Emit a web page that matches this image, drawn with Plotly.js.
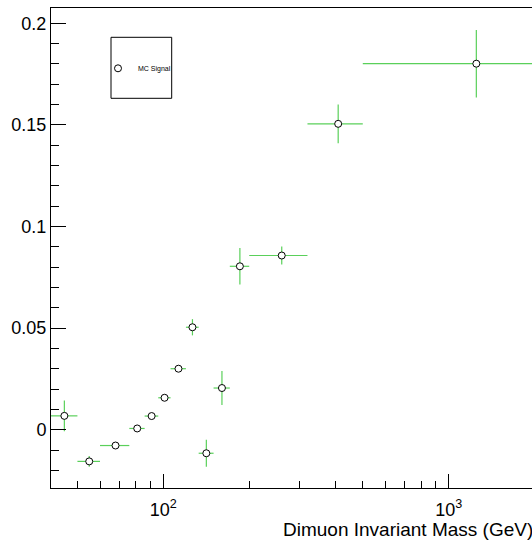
<!DOCTYPE html>
<html>
<head>
<meta charset="utf-8">
<script src="https://cdn.plot.ly/plotly-3.0.1.min.js"></script>
<style>html,body{margin:0;padding:0;background:#fff;}#chart{width:532px;height:544px;}</style>
</head>
<body>
<div id="chart"></div>
<script>
// Bin edges (GeV) and points
const binLow  = [40, 50, 60, 76, 86, 96, 106, 120, 133, 150, 171, 200, 320, 500];
const binHigh = [50, 60, 76, 86, 96, 106, 120, 133, 150, 171, 200, 320, 500, 2000];
const massCenter = [45, 55, 68, 81, 91, 101, 113, 126.5, 141.5, 160.5, 185.5, 260, 410, 1250];
const signalValue = [0.0068, -0.0156, -0.0078, 0.0006, 0.0067, 0.0157, 0.0300, 0.0504, -0.0116, 0.0205, 0.0804, 0.0857, 0.1505, 0.1801];
const signalError = [0.0076, 0.0026, 0.0014, 0.0013, 0.0014, 0.0015, 0.0016, 0.0040, 0.0066, 0.0084, 0.0090, 0.0044, 0.0095, 0.0166];
const xTickVals = [100, 1000];
const xTickText = ['10<sup>2</sup>', '10<sup>3</sup>'];
const xMinorVals = [50, 60, 70, 80, 90, 200, 300, 400, 500, 600, 700, 800, 900, 2000];
const seriesName = 'MC Signal';
const xTitle = 'Dimuon Invariant Mass (GeV)';

const errPlus = massCenter.map((c, i) => binHigh[i] - c);
const errMinus = massCenter.map((c, i) => c - binLow[i]);

const green = '#5ad05a';
const trace = {
  type: 'scatter',
  mode: 'markers',
  name: seriesName,
  x: massCenter,
  y: signalValue,
  marker: {symbol: 'circle', size: 7, color: '#ffffff', line: {color: '#000000', width: 1}},
  error_x: {type: 'data', symmetric: false, array: errPlus, arrayminus: errMinus, color: green, thickness: 1.2, width: 0},
  error_y: {type: 'data', array: signalError, color: green, thickness: 1.2, width: 0},
  cliponaxis: true
};

const W = 532, H = 544, L = 51, T = 8, B = 56, R = 0;
const pw = W - L - R, ph = H - T - B;
const px = v => (v - L) / pw;
const py = v => (H - B - v) / ph;

const font = 'Liberation Sans, Arial, Helvetica, sans-serif';
const layout = {
  width: W, height: H,
  margin: {l: L, r: R, t: T, b: B, pad: 0},
  paper_bgcolor: '#ffffff', plot_bgcolor: '#ffffff',
  showlegend: true,
  legend: {x: px(98), y: py(68.3), xanchor: 'left', yanchor: 'middle', bgcolor: 'rgba(0,0,0,0)', borderwidth: 0,
           font: {family: font, size: 7, color: '#000'}},
  xaxis: {
    type: 'log', range: [Math.log10(40.4), 3.292],
    showgrid: false, zeroline: false,
    showline: true, linecolor: '#000', linewidth: 1, mirror: true,
    ticks: 'inside', ticklen: 14, tickcolor: '#000', tickwidth: 1,
    tickmode: 'array', tickvals: xTickVals, ticktext: xTickText,
    tickfont: {family: font, size: 18, color: '#000'},
    ticklabelstandoff: 5,
    minor: {tickmode: 'array', tickvals: xMinorVals, ticks: 'inside', ticklen: 7, tickcolor: '#000', showgrid: false}
  },
  yaxis: {
    range: [-0.0287, 0.2075],
    showgrid: false, zeroline: false,
    showline: true, linecolor: '#000', linewidth: 1, mirror: false,
    ticks: 'inside', ticklen: 15, tickcolor: '#000', tickwidth: 1,
    tickmode: 'array', tickvals: [0, 0.05, 0.1, 0.15, 0.2], ticktext: ['0', '0.05', '0.1', '0.15', '0.2'],
    tickfont: {family: font, size: 18, color: '#000'},
    minor: {dtick: 0.01, tick0: 0, ticks: 'inside', ticklen: 8, tickcolor: '#000', showgrid: false}
  },
  shapes: [{type: 'rect', xref: 'paper', yref: 'paper', x0: px(111), x1: px(171.7), y0: py(98.3), y1: py(37.3),
            line: {color: '#000', width: 1}, fillcolor: 'rgba(0,0,0,0)', layer: 'above'}],
  annotations: [{text: xTitle, xref: 'paper', yref: 'paper', x: px(535), y: py(529), xanchor: 'right', yanchor: 'middle',
                 showarrow: false, font: {family: font, size: 19, color: '#000'}}]
};

Plotly.newPlot('chart', [trace], layout, {displayModeBar: false, staticPlot: true});
</script>
</body>
</html>
